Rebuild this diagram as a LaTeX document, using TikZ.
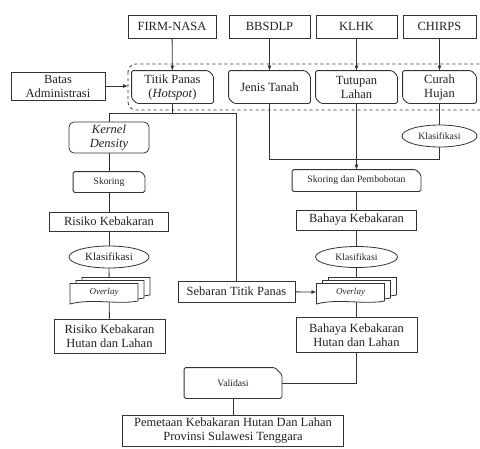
\documentclass[tikz,border=0pt]{standalone}
\usepackage{fontspec}
\setmainfont{Liberation Serif}
\usetikzlibrary{shapes.geometric,arrows.meta}
\definecolor{ln}{HTML}{333333}
\definecolor{tx}{HTML}{222222}
\newcommand\ovdoc[1]{%
  \foreach \dx/\dy in {12/-6,6/-3,0/0}{%
    \filldraw[draw=ln,fill=white,shift={(#1)},shift={(\dx,\dy)}]
      (-34,-9.5) -- (34,-9.5) -- (34,8) .. controls (14,12) and (-12,5) .. (-34,11) -- cycle;
  }%
}
% outline with chamfered north-east and south-west corners
\newcommand\datashape[1]{%
  \draw[ln,rounded corners=1.5pt] (#1.north west) -- ([xshift=-5pt]#1.north east) -- ([yshift=-5pt]#1.north east)
     -- (#1.south east) -- ([xshift=5pt]#1.south west) -- ([yshift=5pt]#1.south west) -- cycle;}
% outline with chamfered north-east corner
\newcommand\cardshape[2]{%
  \draw[ln,rounded corners=1.5pt] (#1.north west) -- ([xshift=-#2]#1.north east) -- ([yshift=-#2]#1.north east)
     -- (#1.south east) -- (#1.south west) -- cycle;}
\begin{document}
\begin{tikzpicture}[x=1pt,y=-1pt,line width=0.8pt,
  base/.style={draw=ln,text=tx,align=center,inner sep=1pt,font=\fontsize{12.5}{14}\selectfont},
  small/.style={font=\fontsize{9.7}{11}\selectfont},
  src/.style={base,rectangle,minimum height=23pt},
  data/.style={base,draw=none,rectangle,minimum height=32pt},
  card/.style={base,small,draw=none,rectangle},
  oval/.style={base,small,ellipse,inner sep=0pt},
  box/.style={base,rectangle},
  arr/.style={draw=ln,-{Latex[length=5pt,width=4pt]}},
  con/.style={draw=ln}]
\useasboundingbox (0,0) rectangle (480,448);

% sources
\node[src,minimum width=88pt] (firm) at (172,26.5) {FIRM-NASA};
\node[src,minimum width=81pt] (bbs) at (269.5,26.5) {BBSDLP};
\node[src,minimum width=81pt] (klhk) at (356.5,26.5) {KLHK};
\node[src,minimum width=73pt] (chirps) at (439.5,26.5) {CHIRPS};

% dashed group
\draw[ln,dashed,rounded corners=8pt] (128,64) rectangle (492,110);

% data
\node[data,minimum width=81pt] (tp) at (172.5,87) {Titik Panas\\(\textit{Hotspot})};
\node[data,minimum width=81pt] (jt) at (269.5,87) {Jenis Tanah};
\node[data,minimum width=81pt] (tl) at (356.5,87) {Tutupan\\Lahan};
\node[data,minimum width=73pt] (ch) at (439.5,87) {Curah\\Hujan};
\datashape{tp}\datashape{jt}\datashape{tl}\datashape{ch}
\node[box,minimum width=94pt,minimum height=28pt] (batas) at (58,86) {Batas\\Administrasi};
\coordinate (dw) at (128,86);

\draw[arr] (firm) -- (tp);
\draw[arr] (bbs) -- (jt);
\draw[arr] (klhk) -- (tl);
\draw[arr] (chirps) -- (ch);
\draw[arr] (batas) -- (dw);

% right column
\node[oval,minimum width=75pt,minimum height=22pt] (klas1) at (439.5,136) {Klasifikasi};
\coordinate (j1) at (269.5,159);
\coordinate (j2) at (439.5,159);
\node[card,minimum width=128pt,minimum height=21pt] (skp) at (356.5,180.5) {Skoring dan Pembobotan};
\cardshape{skp}{5pt}
\node[box,minimum width=120pt,minimum height=20pt] (bk) at (356.5,220) {Bahaya Kebakaran};
\node[oval,minimum width=82pt,minimum height=21pt] (klas2) at (356.5,257) {Klasifikasi};
\node[box,minimum width=121pt,minimum height=35pt] (bkhl) at (356.5,335) {Bahaya Kebakaran\\Hutan dan Lahan};

\draw[con] (jt) -- (j1) -- (j2);
\draw[con] (ch) -- (klas1);
\draw[con] (klas1) -- (j2);
\draw[arr] (tl) -- (skp);
\draw[con] (skp) -- (bk);
\draw[con] (bk) -- (klas2);
\draw[con] (klas2) -- (bkhl);

% left column
\coordinate (hL) at (109,113);
\coordinate (hR) at (236.5,113);
\node[base,rectangle,rounded corners=5pt,minimum width=80pt,minimum height=31pt] (kd) at (109,137.5) {\textit{Kernel}\\\textit{Density}};
\node[card,minimum width=71pt,minimum height=20pt] (sk) at (109,182) {Skoring};
\cardshape{sk}{4pt}
\node[box,minimum width=119pt,minimum height=19pt] (rk) at (109,221.5) {Risiko Kebakaran};
\node[oval,minimum width=80pt,minimum height=22pt,font=\fontsize{11}{12}\selectfont] (klas3) at (109,257) {Klasifikasi};
\node[box,minimum width=111pt,minimum height=34pt] (rkhl) at (109.5,336) {Risiko Kebakaran\\Hutan dan Lahan};
\node[box,minimum width=117pt,minimum height=21pt] (stp) at (236.5,291.5) {Sebaran Titik Panas};

\draw[con] (tp) -- (tp |- hL);
\draw[con] (kd) -- (hL) -- (hR) -- (stp);
\draw[con] (kd) -- (sk);
\draw[con] (sk) -- (rk);
\draw[con] (rk) -- (klas3);
\draw[con] (klas3) -- (rkhl);

% overlays
\coordinate (ovLc) at (104,293);
\coordinate (ovRc) at (350.5,293);
\ovdoc{ovLc}
\ovdoc{ovRc}
\node[base,draw=none,font=\fontsize{9}{10.5}\selectfont\itshape] (ovL) at (104,292) {Overlay};
\node[base,draw=none,font=\fontsize{9}{10.5}\selectfont\itshape] (ovR) at (350.5,292) {Overlay};
\coordinate (ovRw) at (316.5,292);
\draw[arr] (stp) -- (ovRw);

% bottom
\node[card,minimum width=97pt,minimum height=30pt] (val) at (233,383) {Validasi};
\cardshape{val}{7pt}
\node[box,minimum width=221pt,minimum height=31pt] (pem) at (233,431) {Pemetaan Kebakaran Hutan Dan Lahan\\Provinsi Sulawesi Tenggara};
\draw[con] (bkhl) |- (val);
\draw[con] (val) -- (pem);
\end{tikzpicture}
\end{document}
